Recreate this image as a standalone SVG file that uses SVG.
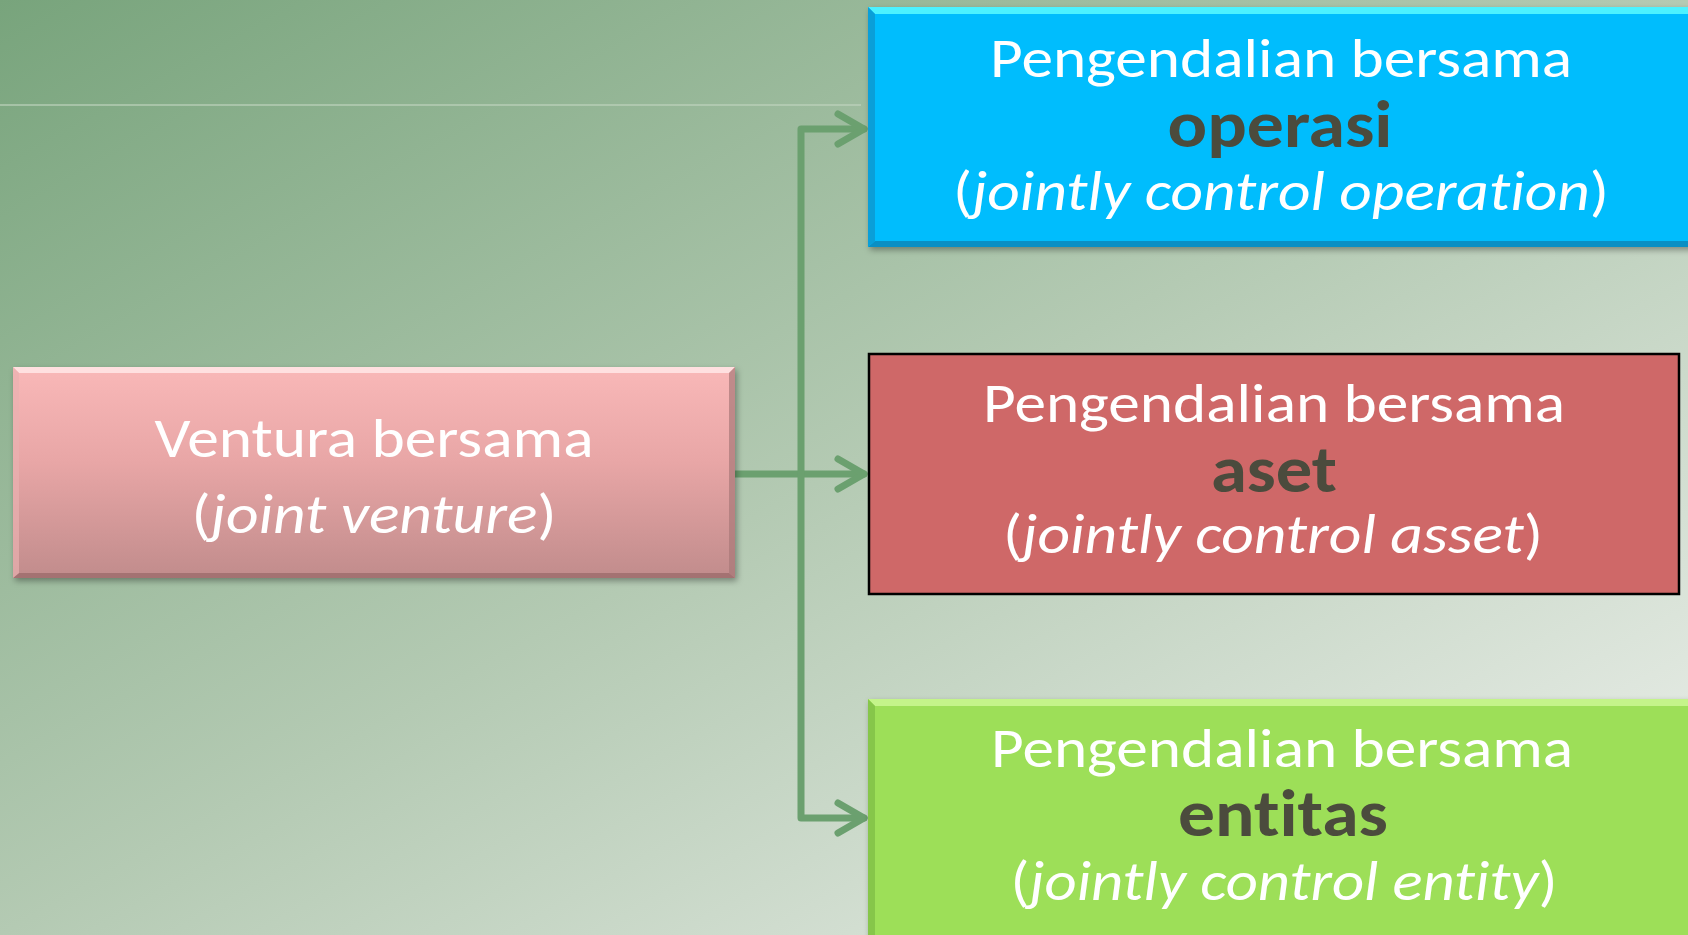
<svg xmlns="http://www.w3.org/2000/svg" width="1688" height="935" viewBox="0 0 1688 935">
  <defs>
    <linearGradient id="bg" x1="0" y1="0" x2="1" y2="1">
      <stop offset="0" stop-color="#78a47c"/>
      <stop offset="0.5" stop-color="#b4cab3"/>
      <stop offset="1" stop-color="#f0f2ef"/>
    </linearGradient>
    <linearGradient id="pinkFill" x1="0" y1="0" x2="0" y2="1">
      <stop offset="0" stop-color="#f9b8b8"/>
      <stop offset="0.45" stop-color="#e8a6a6"/>
      <stop offset="1" stop-color="#c18c8c"/>
    </linearGradient>
    <filter id="shadow" x="-5%" y="-10%" width="112%" height="125%">
      <feDropShadow dx="2" dy="3" stdDeviation="3" flood-color="#000" flood-opacity="0.35"/>
    </filter>
    <marker id="chev" markerUnits="userSpaceOnUse" viewBox="-32 -20 40 40" markerWidth="40" markerHeight="40" refX="0" refY="0" orient="auto">
      <path d="M -26 -15 L 0 0 L -26 15" fill="none" stroke="#6ba06f" stroke-width="7" stroke-linecap="round" stroke-linejoin="round"/>
    </marker>
  </defs>
  <style>
    .t { font-family: Carlito, Calibri, Lato, "Liberation Sans", sans-serif; text-anchor: middle; font-variant-ligatures: none; font-feature-settings: "liga" 0, "clig" 0; }
    .reg { font-size: 56px; fill: #ffffff; }
    .bold { font-size: 66px; font-weight: bold; fill: #4b4b3d; }
    .it { font-style: italic; }
    .wire { fill: none; stroke: #6ba06f; stroke-width: 7; stroke-linecap: round; stroke-linejoin: round; }
  </style>

  <!-- backdrop -->
  <rect x="0" y="0" width="1688" height="935" fill="url(#bg)"/>
  <line x1="0" y1="105" x2="861" y2="105" stroke="#c0d4bf" stroke-width="1.5" opacity="0.8"/>

  <!-- connectors -->
  <g id="connectors">
    <path class="wire" d="M 735 474 H 864" marker-end="url(#chev)"/>
    <path class="wire" d="M 801 474 V 129 H 864" marker-end="url(#chev)"/>
    <path class="wire" d="M 801 474 V 818 H 864" marker-end="url(#chev)"/>
  </g>

  <!-- source node -->
  <g id="node-ventura">
    <rect x="13" y="367" width="722" height="211" fill="url(#pinkFill)" filter="url(#shadow)"/>
    <polygon points="13,367 735,367 729,373 19,373" fill="#ffe4e4" opacity="0.9"/>
    <polygon points="13,578 735,578 729,573 19,573" fill="#9c6c6c" opacity="0.8"/>
    <polygon points="13,367 19,373 19,573 13,578" fill="#e9b0b0" opacity="0.7"/>
    <polygon points="735,367 729,373 729,573 735,578" fill="#a87878" opacity="0.7"/>
    <text class="t reg" x="374" y="457" textLength="439" lengthAdjust="spacingAndGlyphs">Ventura bersama</text>
    <text class="t reg" x="374" y="533" textLength="365" lengthAdjust="spacingAndGlyphs">(<tspan class="it">joint venture</tspan>)</text>
  </g>

  <!-- jointly controlled operation -->
  <g id="node-operasi">
    <rect x="868" y="7" width="826" height="240" fill="#05bdfd" filter="url(#shadow)"/>
    <polygon points="868,7 1694,7 1688,14 875,14" fill="#4cf2ff"/>
    <polygon points="868,247 1694,247 1688,241 875,241" fill="#0a8fc4"/>
    <polygon points="868,7 875,14 875,241 868,247" fill="#0a9fd8"/>
    <text class="t reg" x="1281" y="77" textLength="582" lengthAdjust="spacingAndGlyphs">Pengendalian bersama</text>
    <text class="t bold" x="1280" y="147" textLength="225" lengthAdjust="spacingAndGlyphs">operasi</text>
    <text class="t reg" x="1281" y="210" textLength="656" lengthAdjust="spacingAndGlyphs">(<tspan class="it">jointly control operation</tspan>)</text>
  </g>

  <!-- jointly controlled assets -->
  <g id="node-aset">
    <rect x="869" y="354" width="810" height="240" fill="#cf6868" stroke="#000" stroke-width="2.5"/>
    <text class="t reg" x="1274" y="422" textLength="582" lengthAdjust="spacingAndGlyphs">Pengendalian bersama</text>
    <text class="t bold" x="1274" y="492" textLength="126" lengthAdjust="spacingAndGlyphs">aset</text>
    <text class="t reg" x="1273" y="553" textLength="540" lengthAdjust="spacingAndGlyphs">(<tspan class="it">jointly control asset</tspan>)</text>
  </g>

  <!-- jointly controlled entity -->
  <g id="node-entitas">
    <rect x="868" y="699" width="826" height="246" fill="#9ddf58" filter="url(#shadow)"/>
    <polygon points="868,699 1694,699 1688,706 875,706" fill="#c4f48a"/>
    <polygon points="868,699 875,706 875,945 868,945" fill="#86c64a"/>
    <text class="t reg" x="1282" y="767" textLength="582" lengthAdjust="spacingAndGlyphs">Pengendalian bersama</text>
    <text class="t bold" x="1283" y="836" textLength="210" lengthAdjust="spacingAndGlyphs">entitas</text>
    <text class="t reg" x="1284" y="900" textLength="547" lengthAdjust="spacingAndGlyphs">(<tspan class="it">jointly control entity</tspan>)</text>
  </g>
</svg>
